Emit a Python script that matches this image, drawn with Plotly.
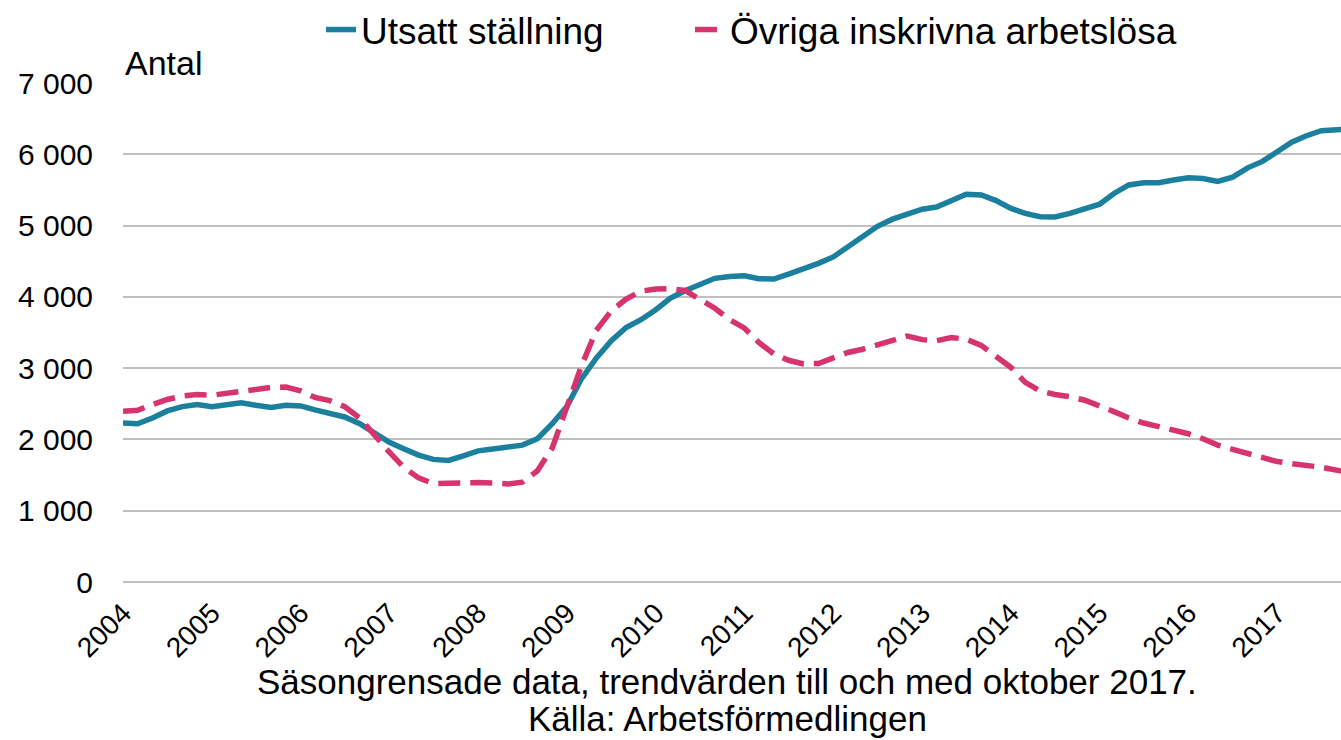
import plotly.graph_objects as go

# ---------------- data ----------------
years = list(range(2004, 2018))
tick_labels = [str(y) for y in years]

# bi-monthly observations (Jan, Mar, May, Jul, Sep, Nov), last one Oct 2017
months = [1, 3, 5, 7, 9, 11]
dates = [f"{y}-{m:02d}-01" for y in range(2004, 2017) for m in months] + \
        ["2017-01-01", "2017-03-01", "2017-05-01", "2017-07-01", "2017-10-01"]

utsatt = [
    2230, 2220, 2300, 2400, 2460, 2490,   # 2004
    2460, 2490, 2515, 2480, 2450, 2480,   # 2005
    2470, 2415, 2360, 2315, 2220, 2085,   # 2006
    1960, 1870, 1780, 1720, 1705, 1770,   # 2007
    1840, 1865, 1885, 1920, 2010, 2220,   # 2008
    2465, 2850, 3140, 3380, 3570, 3680,   # 2009
    3820, 3980, 4085, 4180, 4260, 4285,   # 2010
    4295, 4255, 4250, 4320, 4390, 4470,   # 2011
    4560, 4700, 4860, 4990, 5090, 5170,   # 2012
    5230, 5260, 5360, 5440, 5430, 5350,   # 2013
    5240, 5170, 5124, 5120, 5170, 5240,   # 2014
    5300, 5450, 5570, 5600, 5600, 5640,   # 2015
    5670, 5660, 5620, 5680, 5810, 5900,   # 2016
    6030, 6170, 6260, 6330, 6350,         # 2017
]

ovriga = [
    2395, 2410, 2490, 2560, 2610, 2630,   # 2004
    2620, 2640, 2670, 2700, 2730, 2735,   # 2005
    2680, 2590, 2545, 2460, 2300, 2050,   # 2006
    1820, 1610, 1460, 1380, 1390, 1395,   # 2007
    1395, 1390, 1375, 1400, 1560, 1880,   # 2008
    2465, 3030, 3530, 3800, 3970, 4080,   # 2009
    4110, 4115, 4090, 3960, 3840, 3680,   # 2010
    3560, 3360, 3200, 3110, 3060, 3065,   # 2011
    3150, 3220, 3265, 3320, 3390, 3450,   # 2012
    3400, 3385, 3430, 3405, 3320, 3170,   # 2013
    3010, 2800, 2680, 2630, 2600, 2550,   # 2014
    2474, 2390, 2300, 2230, 2180, 2130,   # 2015
    2080, 2010, 1920, 1860, 1800, 1750,   # 2016
    1690, 1660, 1640, 1610, 1550,         # 2017
]

series_names = ["Utsatt ställning", "Övriga inskrivna arbetslösa"]
y_label = "Antal"
footer_lines = ["Säsongrensade data, trendvärden till och med oktober 2017.",
                "Källa: Arbetsförmedlingen"]

BLUE = "#1b7f9e"
PINK = "#d6336f"
GRID = "#c0c0c0"
FONT = "Liberation Sans, Arial, sans-serif"

W, H = 1341, 740
M_L, M_R, M_T, M_B = 123, 0, 83, 158
PH = H - M_T - M_B


def py(pix):
    """pixel row (from top) -> paper y"""
    return (H - M_B - pix) / PH


def px(pix):
    """pixel column -> paper x"""
    return (pix - M_L) / (W - M_L - M_R)


def legend_at(text_left_px):
    return dict(
        orientation="h", xref="container", yref="container",
        x=(text_left_px - 42) / W, xanchor="left",
        y=1 - 30 / H, yanchor="middle",
        font=dict(size=37, family=FONT), bgcolor="rgba(0,0,0,0)",
    )


# ---------------- figure ----------------
fig = go.Figure()
fig.add_trace(go.Scatter(
    x=dates, y=utsatt, mode="lines", name=series_names[0],
    line=dict(color=BLUE, width=5.5), legend="legend",
))
fig.add_trace(go.Scatter(
    x=dates, y=ovriga, mode="lines", name=series_names[1],
    line=dict(color=PINK, width=5.5, dash="22px,10px"), legend="legend2",
))

fig.update_layout(
    width=W, height=H,
    margin=dict(l=M_L, r=M_R, t=M_T, b=M_B, autoexpand=False),
    paper_bgcolor="white", plot_bgcolor="white",
    font=dict(family=FONT, color="#000000"),
    separators=", ",
    showlegend=True,
    legend=legend_at(363),
    legend2=legend_at(732),
    xaxis=dict(
        type="date",
        range=["2004-01-01", "2017-09-20"],
        tickmode="array",
        tickvals=[f"{y}-01-01" for y in years],
        ticktext=tick_labels,
        tickangle=-45,
        tickfont=dict(size=28, family=FONT),
        showgrid=False, zeroline=False, showline=False, ticks="",
        ticklabelstandoff=8,
        automargin=False,
    ),
    yaxis=dict(
        range=[0, 7000], dtick=1000, tick0=0,
        tickformat=",d",
        tickfont=dict(size=30, family=FONT),
        showgrid=True, gridcolor=GRID, gridwidth=2,
        zeroline=True, zerolinecolor=GRID, zerolinewidth=2,
        showline=False, ticks="", ticklabelstandoff=29,
        automargin=False,
    ),
    annotations=[
        dict(text=y_label, xref="paper", yref="paper", x=px(123), y=py(63),
             xanchor="left", yanchor="middle", showarrow=False,
             font=dict(size=34, family=FONT)),
        dict(text=footer_lines[0], xref="paper", yref="paper", x=px(727), y=py(681),
             xanchor="center", yanchor="middle", showarrow=False,
             font=dict(size=35, family=FONT)),
        dict(text=footer_lines[1], xref="paper", yref="paper", x=px(727), y=py(718),
             xanchor="center", yanchor="middle", showarrow=False,
             font=dict(size=35, family=FONT)),
    ],
)

fig.write_html(
    "out.html",
    config={"displayModeBar": False},
    post_script="document.body.style.margin='0px';document.body.style.padding='0px';",
)
